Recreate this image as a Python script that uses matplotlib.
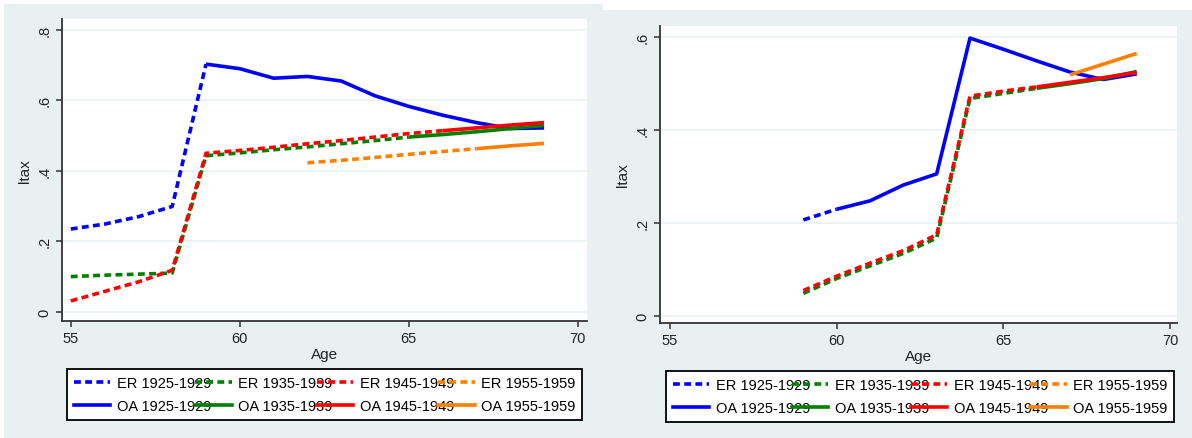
import matplotlib
matplotlib.use("Agg")
import matplotlib.pyplot as plt
from matplotlib.lines import Line2D
from matplotlib.patches import Rectangle

plt.rcParams['font.family'] = ['Liberation Sans', 'DejaVu Sans']

# Data - left panel
l_er1925_age = [55, 56, 57, 58, 59]
l_er1925 = [0.235, 0.249, 0.270, 0.299, 0.703]
l_oa1925_age = [59, 60, 61, 62, 63, 64, 65, 66, 67, 68, 69]
l_oa1925 = [0.703, 0.690, 0.663, 0.668, 0.655, 0.613, 0.583, 0.558, 0.537, 0.520, 0.522]
l_er1935_age = [55, 56, 57, 58, 59, 60, 61, 62, 63, 64, 65]
l_er1935 = [0.100, 0.104, 0.107, 0.110, 0.443, 0.451, 0.460, 0.468, 0.477, 0.486, 0.496]
l_oa1935_age = [65, 66, 67, 68, 69]
l_oa1935 = [0.496, 0.503, 0.511, 0.520, 0.529]
l_er1945_age = [55, 56, 57, 58, 59, 60, 61, 62, 63, 64, 65, 66]
l_er1945 = [0.031, 0.058, 0.085, 0.118, 0.450, 0.458, 0.467, 0.477, 0.486, 0.496, 0.506, 0.514]
l_oa1945_age = [66, 67, 68, 69]
l_oa1945 = [0.514, 0.522, 0.530, 0.537]
l_er1955_age = [62, 63, 64, 65, 66, 67]
l_er1955 = [0.423, 0.430, 0.438, 0.447, 0.455, 0.463]
l_oa1955_age = [67, 68, 69]
l_oa1955 = [0.463, 0.471, 0.478]

# Data - right panel
r_er1925_age = [59, 60]
r_er1925 = [0.206, 0.229]
r_oa1925_age = [60, 61, 62, 63, 64, 65, 66, 67, 68, 69]
r_oa1925 = [0.229, 0.247, 0.281, 0.305, 0.597, 0.573, 0.548, 0.524, 0.508, 0.520]
r_er1935_age = [59, 60, 61, 62, 63, 64, 65, 66]
r_er1935 = [0.048, 0.080, 0.107, 0.134, 0.167, 0.467, 0.478, 0.489]
r_oa1935_age = [66, 67, 68, 69]
r_oa1935 = [0.489, 0.499, 0.510, 0.525]
r_er1945_age = [59, 60, 61, 62, 63, 64, 65, 66]
r_er1945 = [0.054, 0.085, 0.113, 0.140, 0.174, 0.472, 0.483, 0.492]
r_oa1945_age = [66, 67, 68, 69]
r_oa1945 = [0.492, 0.502, 0.512, 0.523]
r_er1955_age = []
r_er1955 = []
r_oa1955_age = [67, 68, 69]
r_oa1955 = [0.518, 0.541, 0.564]

cohorts = ["1925-1929", "1935-1939", "1945-1949", "1955-1959"]
colors = ["#0000ff", "#008000", "#ff0000", "#ff8000"]
x_ticks = [55, 60, 65, 70]

W, H = 1192, 439
fig = plt.figure(figsize=(W / 100, H / 100), dpi=100)
fig.patch.set_facecolor("white")
bg = "#e9f0f2"
fig.add_artist(Rectangle((4 / W, 0), 599 / W, 1 - 5 / H, transform=fig.transFigure,
                         facecolor=bg, edgecolor="none", zorder=-10))
fig.add_artist(Rectangle((603 / W, 0), 589 / W, 1 - 11 / H, transform=fig.transFigure,
                         facecolor=bg, edgecolor="none", zorder=-10))

dash = (0, (1.9, 1.2))
lw = 2.6


def panel(rect, er, oa, xlim, ylim, yticks, ylabels, leg_box):
    ax = fig.add_axes(rect)
    ax.set_facecolor("white")
    for (ages, vals), c in zip(er, colors):
        ax.plot(ages, vals, color=c, lw=lw, linestyle=dash, dash_capstyle="butt")
    for (ages, vals), c in zip(oa, colors):
        ax.plot(ages, vals, color=c, lw=lw, solid_capstyle="butt")
    ax.set_xlim(*xlim)
    ax.set_ylim(*ylim)
    ax.set_xticks(x_ticks)
    ax.set_yticks(yticks)
    ax.set_yticklabels(ylabels, rotation=90, va="center")
    ax.grid(axis="y", color="#eaf2f3", lw=1.2)
    ax.set_axisbelow(True)
    for s in ["top", "right"]:
        ax.spines[s].set_visible(False)
    for s in ["left", "bottom"]:
        ax.spines[s].set_color("#333333")
        ax.spines[s].set_linewidth(1.3)
    ax.tick_params(direction="out", length=4, width=1.1, color="#333333",
                   labelsize=10.5, labelcolor="#222222")
    ax.set_xlabel("Age", fontsize=11, color="#222222", labelpad=1)
    ax.set_ylabel("ltax", fontsize=11, color="#222222", labelpad=4)

    handles, labels = [], []
    for c, coh in zip(colors, cohorts):
        handles.append(Line2D([], [], color=c, lw=lw, linestyle=dash, dash_capstyle="butt"))
        labels.append("ER " + coh)
        handles.append(Line2D([], [], color=c, lw=lw))
        labels.append("OA " + coh)
    x0, y0, x1, y1 = leg_box
    leg = ax.legend(handles, labels, ncol=4, loc="center", mode="expand",
                    bbox_to_anchor=(x0 / W, 1 - y1 / H, (x1 - x0) / W, (y1 - y0) / H),
                    bbox_transform=fig.transFigure, borderaxespad=0, fontsize=10.5,
                    handlelength=2.5, handletextpad=0.45, columnspacing=0.0,
                    labelspacing=0.65, fancybox=False, framealpha=1, edgecolor="black",
                    borderpad=0.45)
    leg.get_frame().set_linewidth(1.3)
    return ax


panel([62 / W, 1 - 322 / H, 525 / W, 302 / H],
      [(l_er1925_age, l_er1925), (l_er1935_age, l_er1935), (l_er1945_age, l_er1945), (l_er1955_age, l_er1955)],
      [(l_oa1925_age, l_oa1925), (l_oa1935_age, l_oa1935), (l_oa1945_age, l_oa1945), (l_oa1955_age, l_oa1955)],
      (54.74, 70.27), (-0.026, 0.831), [0, 0.2, 0.4, 0.6, 0.8], ["0", ".2", ".4", ".6", ".8"],
      (67, 371, 582, 420))

panel([660 / W, 1 - 324 / H, 517 / W, 297 / H],
      [(r_er1925_age, r_er1925), (r_er1935_age, r_er1935), (r_er1945_age, r_er1945), (r_er1955_age, r_er1955)],
      [(r_oa1925_age, r_oa1925), (r_oa1935_age, r_oa1935), (r_oa1945_age, r_oa1945), (r_oa1955_age, r_oa1955)],
      (54.7, 70.21), (-0.0157, 0.623), [0, 0.2, 0.4, 0.6], ["0", ".2", ".4", ".6"],
      (666, 373, 1174, 422))

fig.savefig("out.png", dpi=100, facecolor=fig.get_facecolor())
